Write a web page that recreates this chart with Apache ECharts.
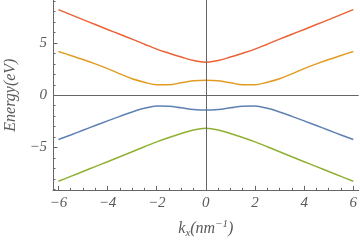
<!DOCTYPE html>
<html>
<head>
<meta charset="utf-8">
<script src="https://cdn.jsdelivr.net/npm/echarts@6/dist/echarts.min.js"></script>
<style>html,body{margin:0;padding:0;background:#fff}#c{width:360px;height:242px}</style>
</head>
<body>
<div id="c"></div>
<script>
// wavevector k_x (nm^-1)
var kx = [-6,-5.5,-5,-4.5,-4,-3.5,-3,-2.5,-2,-1.5,-1,-0.5,0,0.5,1,1.5,2,2.5,3,3.5,4,4.5,5,5.5,6];
// band energies (eV)
var bandTop    = [8.2,7.72,7.24,6.77,6.3,5.84,5.37,4.89,4.42,4.03,3.66,3.32,3.17,3.32,3.66,4.03,4.42,4.89,5.37,5.84,6.3,6.77,7.24,7.72,8.2];
var bandUpper  = [4.19,3.81,3.42,3.0,2.55,2.05,1.58,1.25,1.0,1.0,1.2,1.38,1.44,1.38,1.2,1.0,1.0,1.25,1.58,2.05,2.55,3.0,3.42,3.81,4.19];
var bandLower  = [-4.23,-3.8,-3.35,-2.9,-2.45,-2.02,-1.6,-1.25,-1.04,-1.05,-1.2,-1.36,-1.42,-1.36,-1.2,-1.05,-1.04,-1.25,-1.6,-2.02,-2.45,-2.9,-3.35,-3.8,-4.23];
var bandBottom = [-8.24,-7.77,-7.3,-6.83,-6.36,-5.89,-5.41,-4.93,-4.46,-4.04,-3.66,-3.32,-3.17,-3.32,-3.66,-4.04,-4.46,-4.93,-5.41,-5.89,-6.36,-6.83,-7.3,-7.77,-8.24];
// ticks
var xMajor = [-6,-4,-2,0,2,4,6];
var xMinor = [-5.5,-5,-4.5,-3.5,-3,-2.5,-1.5,-1,-0.5,0.5,1,1.5,2.5,3,3.5,4.5,5,5.5];
var yMajor = [-5,0,5];
var yMinor = [-9,-8,-7,-6,-4,-3,-2,-1,1,2,3,4,6,7,8,9];

function pairs(ys){ return kx.map(function(k,i){ return [k, ys[i]]; }); }
var axisCol = '#666';
var txtCol = '#5a5a5a';
var font = 'Liberation Serif';
function fmt(v){ return v < 0 ? '\u2212' + Math.abs(v) : String(v); }

var chart = echarts.init(document.getElementById('c'), null, {renderer:'canvas'});
function mkSeries(name, ys, color){
  return {name:name, type:'line', data:pairs(ys), smooth:0.35, showSymbol:false, symbol:'none',
    lineStyle:{color:color, width:1.5}, itemStyle:{color:color}, z:3, silent:true};
}
var s0 = mkSeries('top', bandTop, '#EB6235');
s0.markLine = {silent:true, symbol:'none', label:{show:false}, animation:false,
  lineStyle:{color:axisCol, width:1, type:'solid'},
  data:[{xAxis:0},{yAxis:0}]};
chart.setOption({
  animation:false,
  grid:{left:53, right:1.3, top:0, bottom:51.7, outerBoundsMode:'none', containLabel:false},
  xAxis:[{
    type:'value', min:-6.22, max:6.22, position:'bottom',
    axisLine:{show:true, onZero:false, lineStyle:{color:axisCol, width:1}},
    axisTick:{show:true, inside:true, length:4.5, customValues:xMajor, lineStyle:{color:axisCol}},
    axisLabel:{show:true, customValues:xMajor, formatter:fmt, margin:5, color:txtCol,
      fontFamily:font, fontStyle:'italic', fontSize:15},
    splitLine:{show:false},
    name:'{i|k}{sub|x}{i|(nm}{sup|\u22121}{i|)}', nameLocation:'middle', nameGap:28,
    nameTextStyle:{color:txtCol, rich:{
      i:{fontFamily:font, fontStyle:'italic', fontSize:16, color:txtCol},
      sub:{fontFamily:font, fontStyle:'italic', fontSize:11, color:txtCol, padding:[9,0,0,0]},
      sup:{fontFamily:font, fontStyle:'italic', fontSize:11, color:txtCol, padding:[0,0,9,0]}
    }}
  },{
    type:'value', min:-6.22, max:6.22, position:'bottom',
    axisLine:{show:false, onZero:false},
    axisTick:{show:true, inside:true, length:2.5, customValues:xMinor, lineStyle:{color:axisCol}},
    axisLabel:{show:false}, splitLine:{show:false}
  }],
  yAxis:[{
    type:'value', min:-9.1, max:9.12, position:'left',
    axisLine:{show:true, onZero:false, lineStyle:{color:axisCol, width:1}},
    axisTick:{show:true, inside:true, length:4.5, customValues:yMajor, lineStyle:{color:axisCol}},
    axisLabel:{show:true, customValues:yMajor, formatter:fmt, margin:6, color:txtCol,
      fontFamily:font, fontStyle:'italic', fontSize:15},
    splitLine:{show:false},
    name:'Energy(eV)', nameLocation:'middle', nameGap:31, nameRotate:90,
    nameTextStyle:{color:txtCol, fontFamily:font, fontStyle:'italic', fontSize:16}
  },{
    type:'value', min:-9.1, max:9.12, position:'left',
    axisLine:{show:false, onZero:false},
    axisTick:{show:true, inside:true, length:2.5, customValues:yMinor, lineStyle:{color:axisCol}},
    axisLabel:{show:false}, splitLine:{show:false}
  }],
  series:[
    s0,
    mkSeries('upper', bandUpper, '#E19C24'),
    mkSeries('lower', bandLower, '#5E81B5'),
    mkSeries('bottom', bandBottom, '#8FB032')
  ]
});
</script>
</body>
</html>
